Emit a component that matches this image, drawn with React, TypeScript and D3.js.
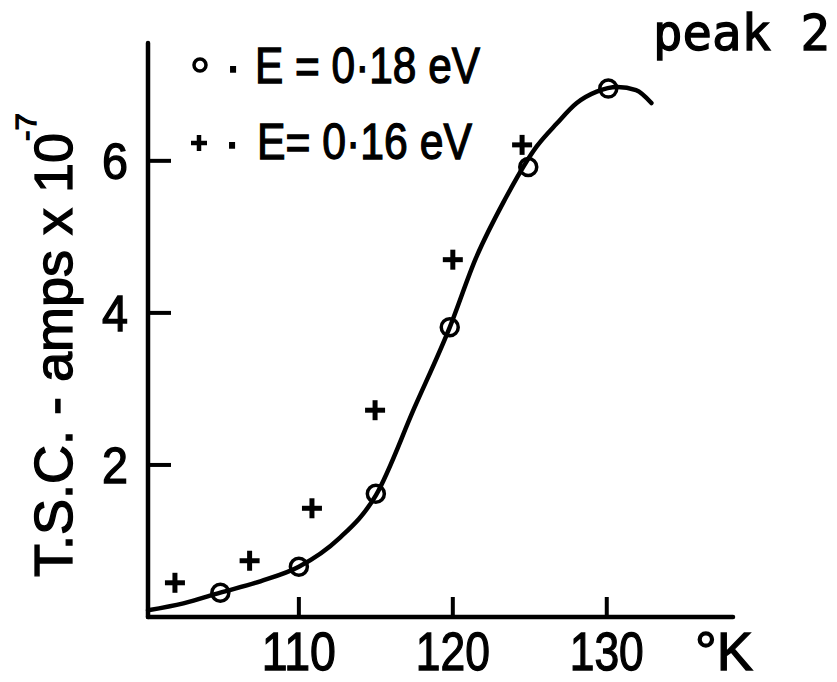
import React from "react";
import * as d3 from "d3";

// ---- data ----
const circleX = [104.9, 110.0, 115.0, 119.8, 124.9, 130.1];
const circleY = [0.32, 0.66, 1.62, 3.81, 5.92, 6.95];

const crossX = [101.95, 106.8, 110.85, 114.95, 120.0, 124.5];
const crossY = [0.45, 0.74, 1.43, 2.72, 4.7, 6.21];

const curveX = [100.2, 102.5, 104.9, 107.5, 110.0, 112.6, 115.0, 117.5, 119.8, 121.5, 123.3, 125.45, 126.75, 128.05, 129.35, 130.7, 131.9, 132.9];
const curveY = [0.09, 0.18, 0.32, 0.47, 0.66, 1.03, 1.6, 2.75, 3.81, 4.72, 5.46, 6.19, 6.49, 6.76, 6.91, 6.97, 6.93, 6.76];

const xTicks = [110, 120, 130];
const yTicks = [2, 4, 6];

const legendLabels = ["E = 0·18 eV", "E= 0·16 eV"];
const yLabel = "T.S.C. - amps x 10";
const yLabelExp = "-7";
const xUnit = "°K";
const title = "peak 2";

const W = 837;
const H = 682;

export default function App() {
  const x = d3.scaleLinear().domain([100.2, 138.2]).range([148, 733]);
  const y = d3.scaleLinear().domain([0, 7.55]).range([617, 43]);

  const line = d3
    .line<number>()
    .x((_, i) => x(curveX[i]))
    .y((_, i) => y(curveY[i]))
    .curve(d3.curveMonotoneX);

  const sans = "'Liberation Sans', 'DejaVu Sans', sans-serif";
  const txt = { fontFamily: sans, stroke: "#000", strokeWidth: 1.3 } as const;
  const [x0, x1] = x.domain();
  const [y0, y1] = y.domain();

  return (
    <svg
      width={W}
      height={H}
      style={{ position: "absolute", left: 0, top: 0, background: "#fff" }}
    >
      <rect x={0} y={0} width={W} height={H} fill="#fff" />
      {/* axes */}
      <line x1={x(x0)} y1={y(y0)} x2={x(x1)} y2={y(y0)} stroke="#000" strokeWidth={4.5} strokeLinecap="round" />
      <line x1={x(x0)} y1={y(y0)} x2={x(x0)} y2={y(y1)} stroke="#000" strokeWidth={4.5} strokeLinecap="round" />
      {xTicks.map((t) => (
        <g key={"xt" + t}>
          <line x1={x(t)} x2={x(t)} y1={y(y0)} y2={y(y0) - 20} stroke="#000" strokeWidth={4} />
          <text
            x={x(t)}
            y={670}
            textAnchor="middle"
            {...txt}
            fontSize={53}
            textLength={74}
            lengthAdjust="spacingAndGlyphs"
          >
            {String(t)}
          </text>
        </g>
      ))}
      {yTicks.map((t) => (
        <g key={"yt" + t}>
          <line x1={x(x0)} x2={x(x0) + 23} y1={y(t)} y2={y(t)} stroke="#000" strokeWidth={4} />
          <text
            x={128}
            y={y(t) + 18}
            textAnchor="end"
            {...txt}
            fontSize={50}
            textLength={26}
            lengthAdjust="spacingAndGlyphs"
          >
            {String(t)}
          </text>
        </g>
      ))}
      <text x={695} y={670} {...txt} fontSize={53} textLength={58} lengthAdjust="spacingAndGlyphs">
        {xUnit}
      </text>

      {/* y label */}
      <text
        transform="translate(72,577) rotate(-90)"
        {...txt}
        fontSize={53}
        textLength={444}
        lengthAdjust="spacingAndGlyphs"
      >
        {yLabel}
      </text>
      <text
        transform="translate(36,141) rotate(-90)"
        {...txt}
        fontSize={30}
        textLength={28}
        lengthAdjust="spacingAndGlyphs"
      >
        {yLabelExp}
      </text>

      {/* title */}
      <text
        x={653}
        y={50}
        fontFamily="'DejaVu Sans Mono', monospace"
        stroke="#000"
        strokeWidth={1.3}
        fontSize={50}
        textLength={177}
        lengthAdjust="spacingAndGlyphs"
      >
        {title}
      </text>

      {/* legend */}
      <circle cx={200} cy={65} r={6} fill="none" stroke="#000" strokeWidth={3.5} />
      <text x={233} y={83} textAnchor="middle" {...txt} fontSize={50}>·</text>
      <text x={255} y={83} {...txt} fontSize={50} textLength={225} lengthAdjust="spacingAndGlyphs">
        {legendLabels[0]}
      </text>
      <g stroke="#000" strokeWidth={4.5}>
        <line x1={191} x2={207} y1={143} y2={143} />
        <line x1={199} x2={199} y1={135} y2={151} />
      </g>
      <text x={232} y={159} textAnchor="middle" {...txt} fontSize={50}>·</text>
      <text x={257} y={159} {...txt} fontSize={50} textLength={215} lengthAdjust="spacingAndGlyphs">
        {legendLabels[1]}
      </text>

      {/* fitted curve */}
      <path d={line(curveX) || ""} fill="none" stroke="#000" strokeWidth={4.5} strokeLinecap="round" />

      {/* circles */}
      {circleX.map((cx, i) => (
        <circle key={"c" + i} cx={x(cx)} cy={y(circleY[i])} r={8.5} fill="none" stroke="#000" strokeWidth={3.5} />
      ))}
      {/* crosses */}
      {crossX.map((cx, i) => (
        <g key={"p" + i} stroke="#000" strokeWidth={5}>
          <line x1={x(cx) - 10} x2={x(cx) + 10} y1={y(crossY[i])} y2={y(crossY[i])} />
          <line x1={x(cx)} x2={x(cx)} y1={y(crossY[i]) - 10} y2={y(crossY[i]) + 10} />
        </g>
      ))}
    </svg>
  );
}
